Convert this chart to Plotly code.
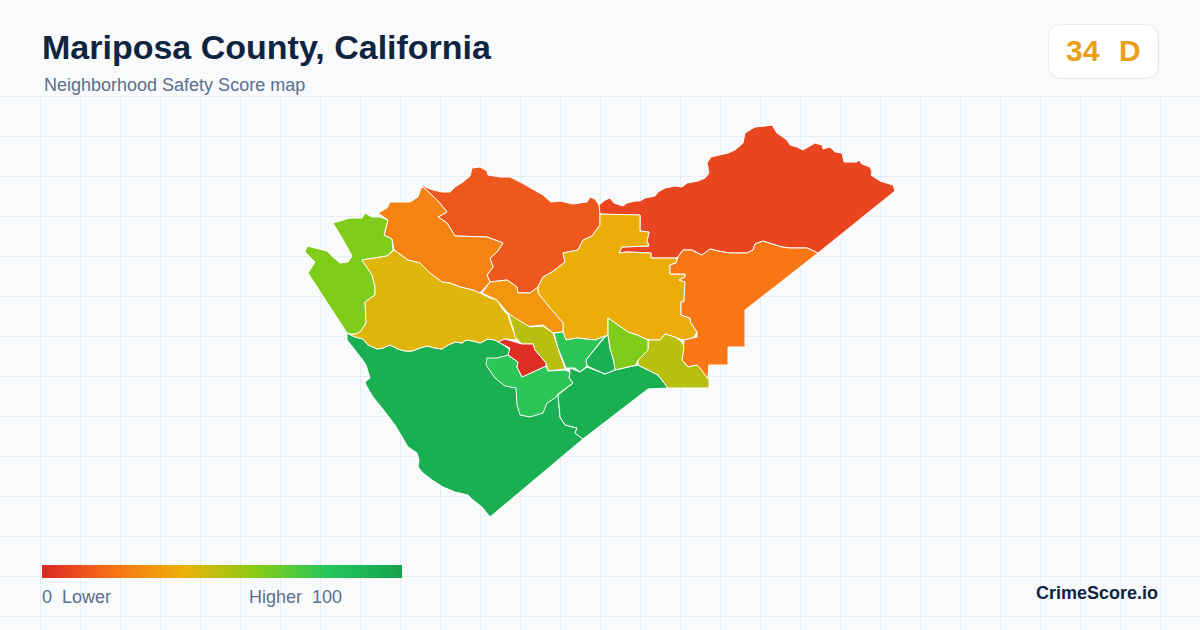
import plotly.graph_objects as go
from plotly.colors import sample_colorscale

TITLE = "Mariposa County, California"
SUBTITLE = "Neighborhood Safety Score map"
BADGE_SCORE = "34"
BADGE_GRADE = "D"
BRAND = "CrimeScore.io"
LEGEND_LOW = "0\u00a0\u00a0Lower"
LEGEND_HIGH = "Higher\u00a0\u00a0100"

COLOR_STOPS = [[0.0, "#dc2626"], [0.2, "#f97316"], [0.4, "#eab308"],
               [0.6, "#84cc16"], [0.8, "#22c55e"], [1.0, "#16a34a"]]

# score per tract, and outlines on the map plane (draw order: back to front)
score_sw = 93
outline_sw = [(347,333),(355,337),(363,339),(368,345),(377,349),(383,348),(390,345),(398,349),(405,351),(412,351),(420,348),(427,346),(435,348),(442,349),(448,345),(455,342),(462,343),(466,340),(473,341),(480,343),(488,339),(495,340),(500,342),(510,350),(560,380),(558,395),(560,417),(565,425),(577,428),(575,433),(583,439),(490,517),(482,507),(473,500),(468,495),(455,492),(443,487),(432,480),(423,473),(418,467),(419,460),(417,453),(408,447),(403,438),(395,425),(382,408),(373,397),(367,387),(365,382),(370,378),(369,375),(366,365),(362,359),(355,350),(347,340)]
score_se_green = 93
outline_se_green = [(583,439),(648,389),(668,388),(658,375),(638,365),(615,370),(605,374),(587,367),(580,372),(570,368),(569,378),(573,383),(558,395),(560,417),(565,425),(577,428),(575,433)]
score_tri = 93
outline_tri = [(605,337),(586,360),(587,366),(605,374),(615,370),(614,362),(610,348),(608,335)]
score_ne = 8
outline_ne = [(599,214),(599,205),(605,200),(610,198),(614,203),(623,206),(627,203),(635,201),(640,201),(645,198),(655,196),(658,192),(665,188),(675,186),(682,187),(687,183),(698,181),(705,178),(709,173),(707,163),(711,157),(720,155),(728,153),(735,150),(743,143),(745,133),(755,127),(765,126),(772,125),(777,133),(787,140),(790,145),(797,147),(803,150),(808,147),(815,143),(822,145),(823,149),(830,147),(835,152),(842,153),(844,162),(857,162),(859,160),(862,164),(870,167),(872,172),(871,175),(880,181),(893,185),(895,191),(818,253),(807,248),(790,248),(782,247),(772,244),(763,241),(755,244),(753,250),(747,253),(730,253),(718,251),(710,249),(702,255),(695,252),(692,250),(683,250),(678,257),(675,258),(651,258),(651,253),(627,252),(619,253),(622,247),(649,246),(647,241),(649,232),(640,231),(640,215),(623,215)]
score_nc = 13
outline_nc = [(423,183),(425,187),(433,190),(442,192),(450,192),(455,187),(463,182),(470,176),(472,168),(480,167),(487,171),(488,175),(500,177),(510,177),(522,183),(535,190),(543,195),(551,202),(560,201),(573,204),(587,202),(590,197),(595,199),(599,205),(600,214),(600,225),(592,236),(583,240),(578,250),(563,253),(565,262),(552,272),(543,277),(538,287),(530,293),(518,293),(517,287),(507,280),(490,282),(487,275),(493,267),(490,258),(497,252),(503,243),(487,237),(455,236),(447,223),(438,217),(447,212),(437,200),(423,187)]
score_nw = 25
outline_nw = [(421,188),(418,197),(410,202),(390,202),(387,208),(378,213),(388,220),(384,235),(392,239),(394,250),(408,260),(420,263),(430,273),(442,282),(450,283),(460,287),(473,290),(480,293),(490,282),(487,275),(493,267),(490,258),(497,252),(503,243),(487,237),(455,236),(447,223),(438,217),(447,212),(437,200),(423,187)]
score_lime_nw = 61
outline_lime_nw = [(333,223),(350,218),(362,218),(365,213),(372,217),(380,217),(388,220),(384,235),(392,239),(393,250),(387,256),(362,260),(372,275),(375,287),(375,295),(365,302),(366,323),(361,331),(356,334),(349,334),(347,333),(308,273),(315,262),(305,252),(307,246),(315,248),(327,251),(333,257),(340,263),(348,262),(352,256),(342,238)]
score_west = 42
outline_west = [(394,250),(408,260),(420,263),(430,273),(442,282),(450,283),(460,287),(473,290),(480,293),(490,298),(497,300),(503,310),(508,315),(512,328),(518,340),(505,339),(498,342),(495,340),(488,339),(480,343),(473,341),(466,340),(462,343),(455,342),(448,345),(442,349),(435,348),(427,346),(420,348),(412,351),(405,351),(398,349),(390,345),(383,348),(377,349),(368,345),(363,339),(355,337),(349,334),(356,334),(361,331),(366,323),(365,302),(375,295),(375,287),(372,275),(362,260),(387,256)]
score_center = 38
outline_center = [(600,214),(623,215),(640,215),(640,231),(649,232),(647,241),(649,246),(622,247),(619,253),(627,252),(651,253),(651,258),(675,258),(677,258),(676,263),(670,265),(670,274),(685,274),(685,277),(679,280),(685,282),(684,302),(681,302),(681,315),(690,318),(691,323),(697,332),(693,338),(683,340),(675,337),(665,334),(660,340),(648,340),(637,335),(628,332),(618,325),(608,318),(608,335),(605,336),(595,340),(577,338),(566,340),(563,332),(563,323),(550,308),(538,293),(538,287),(543,277),(552,272),(565,262),(563,253),(578,250),(583,240),(592,236),(600,225)]
score_mid_orange = 31
outline_mid_orange = [(482,293),(490,282),(507,280),(517,287),(518,293),(530,293),(538,287),(538,293),(550,308),(563,323),(563,332),(553,333),(543,325),(523,327),(508,313),(497,300)]
score_east = 21
outline_east = [(678,257),(683,250),(692,250),(695,252),(702,255),(710,249),(718,251),(730,253),(747,253),(753,250),(755,244),(763,241),(772,244),(782,247),(790,248),(807,248),(818,253),(745,310),(745,347),(728,347),(728,365),(709,365),(708,379),(700,368),(697,365),(688,367),(682,360),(684,340),(697,337),(697,332),(691,323),(690,318),(681,315),(681,302),(684,302),(685,282),(679,280),(685,277),(685,274),(670,274),(670,265),(676,263)]
score_se_lime = 50
outline_se_lime = [(648,340),(660,340),(665,334),(675,337),(682,342),(684,347),(682,360),(688,367),(697,365),(700,368),(708,379),(709,365),(709,388),(668,388),(658,375),(638,365),(638,360),(648,350)]
score_mid_lime = 61
outline_mid_lime = [(608,318),(618,325),(628,332),(637,335),(648,340),(648,350),(638,360),(636,365),(615,370),(614,362),(610,348),(608,335)]
score_strip = 50
outline_strip = [(508,313),(515,318),(530,327),(543,326),(553,333),(558,348),(565,369),(548,371),(546,363),(535,350),(533,344),(522,344),(515,337),(513,328)]
score_bright = 78
outline_bright = [(554,333),(563,332),(566,340),(577,338),(595,340),(605,336),(586,360),(587,366),(580,372),(575,368),(566,368),(558,348)]
score_bright2 = 78
outline_bright2 = [(487,358),(486,365),(495,378),(505,386),(516,388),(517,405),(520,415),(530,417),(543,413),(547,403),(555,398),(558,394),(573,383),(569,378),(570,372),(565,370),(548,371),(546,366),(522,377),(517,367),(518,362),(508,355),(497,358)]
score_red = 2
outline_red = [(498,342),(505,339),(522,344),(533,344),(535,350),(546,363),(546,366),(522,377),(517,367),(518,362),(508,355),(510,348)]

REGIONS = [
    (score_sw, outline_sw), (score_se_green, outline_se_green), (score_tri, outline_tri),
    (score_ne, outline_ne), (score_nc, outline_nc), (score_nw, outline_nw),
    (score_lime_nw, outline_lime_nw), (score_west, outline_west), (score_center, outline_center),
    (score_mid_orange, outline_mid_orange), (score_east, outline_east), (score_se_lime, outline_se_lime),
    (score_mid_lime, outline_mid_lime), (score_strip, outline_strip), (score_bright, outline_bright),
    (score_bright2, outline_bright2), (score_red, outline_red),
]

W, H, TOP = 1200, 630, 96
BG = "#f8fafc"
GRID = "#e6edf3"
NAVY = "#0f2440"
SLATE = "#5a6f8c"
AMBER = "#eaa013"
FONT = "Liberation Sans"


def px(x):
    return x / W


def py(y):
    return (H - y) / (H - TOP)


fig = go.Figure()
for score, outline in REGIONS:
    xs = [p[0] for p in outline] + [outline[0][0]]
    ys = [p[1] for p in outline] + [outline[0][1]]
    color = sample_colorscale(COLOR_STOPS, score / 100)[0]
    fig.add_trace(go.Scatter(x=xs, y=ys, mode="lines", fill="toself", fillcolor=color,
                             line=dict(color="#ffffff", width=1), hoverinfo="skip", showlegend=False))

# legend bar from the score colour scale
scores = [r[0] for r in REGIONS]
fig.add_trace(go.Scatter(
    x=[sum(p[0] for p in r[1]) / len(r[1]) for r in REGIONS],
    y=[sum(p[1] for p in r[1]) / len(r[1]) for r in REGIONS],
    mode="markers", hoverinfo="skip", showlegend=False,
    marker=dict(size=1, opacity=0, color=scores, cmin=0, cmax=100, colorscale=COLOR_STOPS, showscale=True,
                colorbar=dict(orientation="h", x=px(42), xanchor="left", y=py(578), yanchor="bottom",
                              len=360, lenmode="pixels", thickness=13, thicknessmode="pixels",
                              outlinewidth=0, borderwidth=0, xpad=0, ypad=0, ticks="", showticklabels=False)),
))


def text(x, y, s, size, color, bold=False, anchor="left"):
    fig.add_annotation(x=px(x), y=py(y), xref="paper", yref="paper", text=f"<b>{s}</b>" if bold else s,
                       showarrow=False, xanchor=anchor, yanchor="middle", xshift=0, yshift=0,
                       font=dict(family=FONT, size=size, color=color), borderpad=0, borderwidth=0)


text(42, 47, TITLE, 34, NAVY, bold=True)
text(44, 85, SUBTITLE, 18, SLATE)
text(1065.5, 51, BADGE_SCORE, 30, AMBER, bold=True)
text(1118.5, 51, BADGE_GRADE, 30, AMBER, bold=True)
text(42, 597, LEGEND_LOW, 18, SLATE)
text(249, 597, LEGEND_HIGH, 18, SLATE)
text(1158, 593, BRAND, 18, NAVY, bold=True, anchor="right")

# rounded badge
x0, x1, y0, y1, r = 1048.5, 1158.5, 24.5, 78.5, 14
rx, ry = r / W, r / (H - TOP)
path = (f"M {px(x0)+rx} {py(y0)} L {px(x1)-rx} {py(y0)} Q {px(x1)} {py(y0)} {px(x1)} {py(y0)-ry} "
        f"L {px(x1)} {py(y1)+ry} Q {px(x1)} {py(y1)} {px(x1)-rx} {py(y1)} "
        f"L {px(x0)+rx} {py(y1)} Q {px(x0)} {py(y1)} {px(x0)} {py(y1)+ry} "
        f"L {px(x0)} {py(y0)-ry} Q {px(x0)} {py(y0)} {px(x0)+rx} {py(y0)} Z")
fig.add_shape(type="path", path=path, xref="paper", yref="paper", fillcolor="#ffffff",
              line=dict(color="#e2e8f0", width=1), layer="below")
# top grid rule, which the axis drops because it sits on the range end
fig.add_shape(type="line", x0=0, x1=1, y0=py(96.5), y1=py(96.5), xref="paper", yref="paper",
              line=dict(color=GRID, width=1), layer="below")

axis = dict(showticklabels=False, ticks="", zeroline=False, showline=False, showgrid=True,
            gridcolor=GRID, gridwidth=1, fixedrange=True)
fig.update_layout(
    width=W, height=H, autosize=False, paper_bgcolor=BG, plot_bgcolor=BG,
    margin=dict(l=0, r=0, t=TOP, b=0, pad=0), showlegend=False,
    xaxis=dict(axis, range=[0, W], tick0=0.5, dtick=40),
    yaxis=dict(axis, range=[H, TOP], tick0=96.5, dtick=40),
)
fig.write_html("out.html", config=dict(displayModeBar=False),
               post_script="document.body.style.margin='0';document.body.style.overflow='hidden';")
